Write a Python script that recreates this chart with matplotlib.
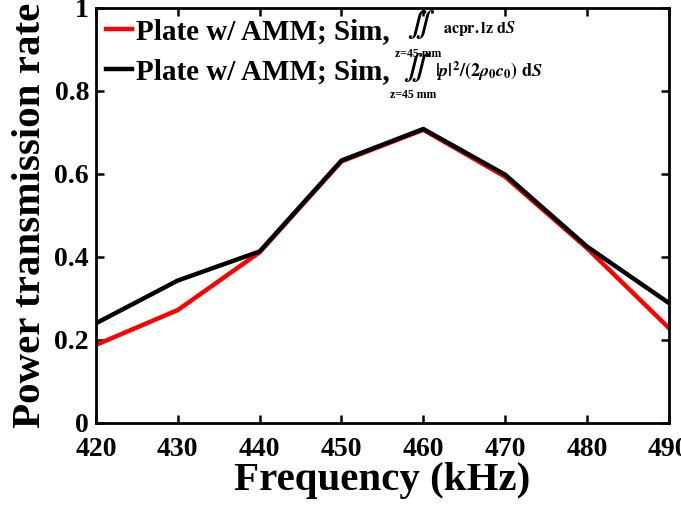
import matplotlib
matplotlib.use("Agg")
import matplotlib.pyplot as plt

plt.rcParams["font.family"] = ["Liberation Serif", "DejaVu Serif"]
plt.rcParams["font.weight"] = "bold"
plt.rcParams["mathtext.fontset"] = "stix"

freq = [420, 430, 440, 450, 460, 470, 480, 490]
acpr = [0.188, 0.272, 0.411, 0.630, 0.706, 0.593, 0.421, 0.229]
intensity = [0.240, 0.343, 0.413, 0.632, 0.708, 0.598, 0.425, 0.289]
labels = ["Plate w/ AMM; Sim,", "Plate w/ AMM; Sim,"]
xticks = [420, 430, 440, 450, 460, 470, 480, 490]
yticks = [0, 0.2, 0.4, 0.6, 0.8, 1]
ytick_labels = ["0", "0.2", "0.4", "0.6", "0.8", "1"]

fig = plt.figure(figsize=(6.81, 5.17), dpi=100)
ax = fig.add_axes([0.141, 0.182, 0.841, 0.803])

ax.plot(freq, acpr, color="red", lw=3.2, label=labels[0])
ax.plot(freq, intensity, color="black", lw=3.2, label=labels[1])

ax.set_xlim(420, 490)
ax.set_ylim(0, 1)
ax.set_xticks(xticks)
ax.set_yticks(yticks)
ax.set_yticklabels(ytick_labels)
ax.tick_params(direction="in", length=6, width=1.8, labelsize=20,
               top=True, right=True)
ax.tick_params(axis="x", pad=10)
ax.tick_params(axis="y", pad=5)
for s in ax.spines.values():
    s.set_linewidth(2)
for lab in ax.get_xticklabels() + ax.get_yticklabels():
    lab.set_fontweight("bold")

ax.set_xlabel("Frequency (kHz)", fontsize=29.5, fontweight="bold", labelpad=0)
ax.set_ylabel("Power transmission rate", fontsize=29.5, fontweight="bold", labelpad=4)

leg = ax.legend(loc="upper left", frameon=False, fontsize=21, handlelength=0.9,
                handletextpad=0.12, borderaxespad=0.0, labelspacing=0.45,
                borderpad=0.35)
for t in leg.get_texts():
    t.set_fontweight("bold")

# integral annotations next to the legend entries:
# (integral x, integral y, limit x, limit y, expression x, expression y, size, expression)
ann = [(0.567, 0.960, 0.562, 0.888, 0.606, 0.949, 11.5, r"$\mathbf{acpr.lz}\ \mathrm{d}S$"),
       (0.560, 0.857, 0.553, 0.791, 0.592, 0.846, 13, r"$|p|^2/(2\rho_0 c_0)\ \mathrm{d}S$")]
for ix, iy, zx, zy, ex, ey, fs, expr in ann:
    ax.text(ix, iy, r"$\iint$", transform=ax.transAxes,
            fontsize=18, ha="center", va="center")
    ax.text(zx, zy, "z=45 mm", transform=ax.transAxes,
            fontsize=8.5, fontweight="bold", ha="center", va="center")
    ax.text(ex, ey, expr, transform=ax.transAxes, fontsize=fs,
            ha="left", va="center")

fig.savefig("out.png", dpi=100)
